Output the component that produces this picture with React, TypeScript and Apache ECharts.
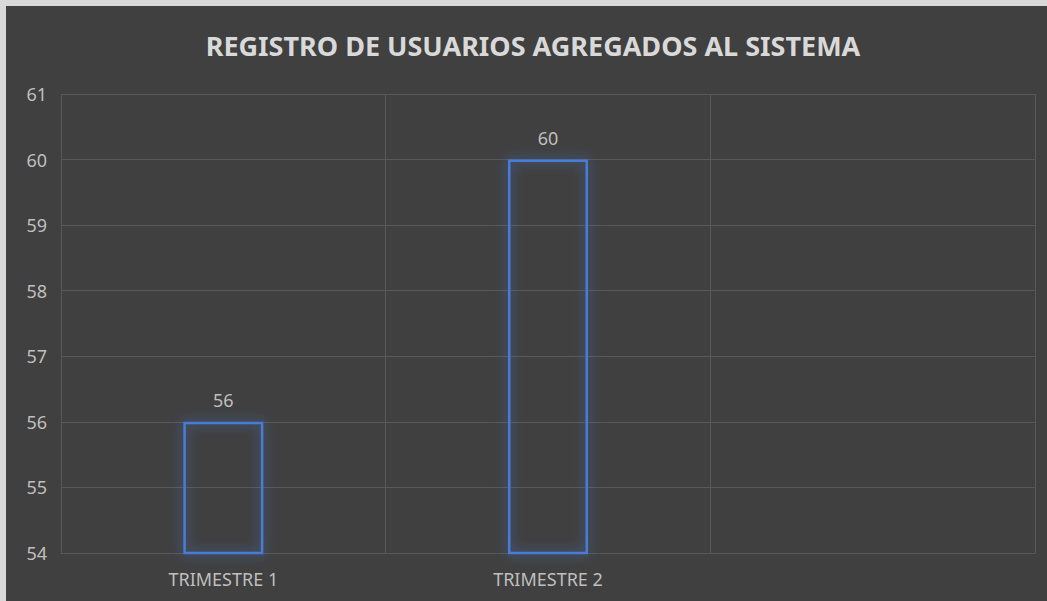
import React, { useEffect, useRef } from "react";
import * as echarts from "echarts";

const categories = ["TRIMESTRE 1", "TRIMESTRE 2", ""];
const values: (number | null)[] = [56, 60, null];
const yMin = 54;
const yMax = 61;
const yInterval = 1;
const titleText = "REGISTRO DE USUARIOS AGREGADOS AL SISTEMA";

const FONT = "'Noto Sans', 'Open Sans', sans-serif";

export default function App() {
  const ref = useRef<HTMLDivElement>(null);
  useEffect(() => {
    if (!ref.current) return;
    const chart = echarts.init(ref.current, undefined, { renderer: "svg" });
    chart.setOption({
      animation: false,
      backgroundColor: "#404040",
      title: {
        text: titleText,
        left: 527,
        top: 26,
        padding: 0,
        textAlign: "center",
        textVerticalAlign: "top",
        textStyle: { color: "#d9d9d9", fontSize: 27, fontWeight: "bold", fontFamily: FONT },
      },
      grid: { left: 55, right: 12, top: 88, bottom: 48, containLabel: false },
      xAxis: {
        type: "category",
        data: categories,
        boundaryGap: true,
        axisLine: { show: true, lineStyle: { color: "#595959", width: 1 } },
        axisTick: { show: false },
        axisLabel: { color: "#bfbfbf", fontSize: 18, fontFamily: FONT, margin: 17, interval: 0 },
        splitLine: { show: true, interval: 0, lineStyle: { color: "#595959", width: 1 } },
      },
      yAxis: {
        type: "value",
        min: yMin,
        max: yMax,
        interval: yInterval,
        axisLine: { show: false },
        axisTick: { show: false },
        axisLabel: { color: "#bfbfbf", fontSize: 18, fontFamily: FONT, margin: 14 },
        splitLine: { show: true, lineStyle: { color: "#595959", width: 1 } },
      },
      series: [
        {
          type: "bar",
          data: values,
          barWidth: 80,
          itemStyle: {
            color: "rgba(0,0,0,0)",
            borderColor: "#4a7bd4",
            borderWidth: 2.5,
            shadowBlur: 12,
            shadowColor: "rgba(68,114,196,1)",
          },
          label: {
            show: true,
            position: "top",
            distance: 13,
            color: "#bfbfbf",
            fontSize: 18,
            fontFamily: FONT,
          },
        },
      ],
    });
    return () => chart.dispose();
  }, []);
  return (
    <div style={{ position: "absolute", left: 0, top: 0, width: 1047, height: 601, background: "#d9d9d9" }}>
      <div ref={ref} style={{ position: "absolute", left: 6, top: 6, width: 1041, height: 595 }} />
    </div>
  );
}
